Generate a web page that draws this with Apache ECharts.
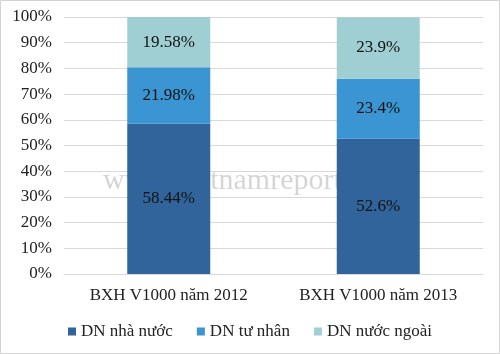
<!DOCTYPE html>
<html>
<head>
<meta charset="utf-8">
<script src="https://cdn.jsdelivr.net/npm/echarts@6/dist/echarts.min.js"></script>
<style>
  html, body { margin: 0; padding: 0; background: #fff; }
  #chart { width: 500px; height: 354px; }
</style>
</head>
<body>
<div id="chart"></div>
<script>
var categories = ['BXH V1000 năm 2012', 'BXH V1000 năm 2013'];
var seriesNames = ['DN nhà nước', 'DN tư nhân', 'DN nước ngoài'];
var stateValues = [58.44, 52.6];
var privateValues = [21.98, 23.4];
var foreignValues = [19.58, 23.9];
var colors = ['#30649a', '#3a95d2', '#9fcfd3'];

var font = 'Liberation Serif';

var makeSeries = function (name, values, color) {
    return {
        name: name,
        type: 'bar',
        stack: 'total',
        barWidth: 83,
        z: 5,
        data: values,
        itemStyle: { color: color },
        label: {
            show: true,
            position: 'inside',
            fontFamily: font,
            fontSize: 17,
            color: '#111',
            formatter: function (p) { return p.value + '%'; }
        }
    };
};

var myChart = echarts.init(document.getElementById('chart'));
myChart.setOption({
    animation: false,
    color: colors,
    textStyle: { fontFamily: font },
    grid: { left: 64, right: 17, top: 17, bottom: 80 },
    graphic: [
        {
            type: 'rect',
            shape: { x: 0.5, y: 0.5, width: 499, height: 353 },
            style: { fill: 'none', stroke: '#d4d4d4', lineWidth: 1 },
            silent: true
        },
        {
            // faint site watermark, sits under the bars
            type: 'text',
            left: 103,
            top: 166,
            z: -1,
            style: {
                text: 'www.vietnamreport.vn',
                font: '30px "Liberation Serif"',
                fill: 'rgba(0,0,0,0.17)'
            },
            silent: true
        }
    ],
    legend: {
        bottom: 9,
        left: 'center',
        itemWidth: 8,
        itemHeight: 8,
        itemGap: 24,
        icon: 'rect',
        textStyle: { fontFamily: font, fontSize: 17, color: '#222' },
        data: seriesNames
    },
    xAxis: {
        type: 'category',
        data: categories,
        axisTick: { show: false },
        axisLine: { lineStyle: { color: '#d9d9d9' } },
        axisLabel: { fontFamily: font, fontSize: 17, color: '#222', margin: 13 }
    },
    yAxis: {
        type: 'value',
        min: 0,
        max: 100,
        interval: 10,
        axisLabel: {
            fontFamily: font,
            fontSize: 17,
            color: '#222',
            margin: 12,
            formatter: '{value}%'
        },
        splitLine: { lineStyle: { color: '#d9d9d9' } }
    },
    series: [
        makeSeries(seriesNames[0], stateValues, colors[0]),
        makeSeries(seriesNames[1], privateValues, colors[1]),
        makeSeries(seriesNames[2], foreignValues, colors[2])
    ]
});
</script>
</body>
</html>
